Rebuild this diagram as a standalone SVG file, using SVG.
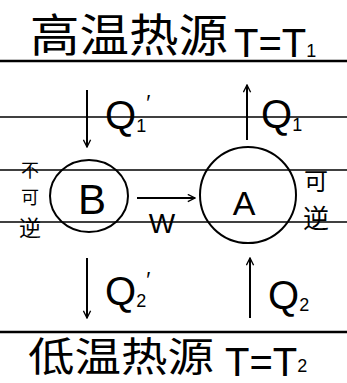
<svg xmlns="http://www.w3.org/2000/svg" width="347" height="383" viewBox="0 0 347 383">
<defs>
<marker id="ah" viewBox="0 0 10 10" refX="9" refY="5" markerWidth="9" markerHeight="9" orient="auto" markerUnits="userSpaceOnUse">
<path d="M1,1 L9,5 L1,9" fill="none" stroke="#000" stroke-width="1.5"/>
</marker>
</defs>
<style>
.ln{stroke:#000;stroke-width:1.3}
.thick{stroke:#000;stroke-width:2.5}
.cjk{font-family:"Noto Sans CJK SC","Noto Sans",sans-serif;fill:#000}
.lat{font-family:"Liberation Sans",sans-serif;fill:#000}
.arr{stroke:#000;stroke-width:2;fill:none;marker-end:url(#ah)}
.node{fill:none;stroke:#000;stroke-width:2}
</style>
<rect width="347" height="383" fill="#fff"/>
<g id="rules">
<line class="thick" x1="0" y1="61" x2="347" y2="61"/>
<line class="ln" x1="0" y1="117" x2="347" y2="117"/>
<line class="ln" x1="0" y1="170" x2="347" y2="170"/>
<line class="ln" x1="0" y1="222" x2="347" y2="222"/>
<line class="thick" x1="0" y1="332" x2="347" y2="332"/>
</g>
<g id="hot">
<text class="cjk" x="30" y="52" font-size="45" textLength="198" lengthAdjust="spacingAndGlyphs">高温热源</text>
<text class="lat" x="234" y="57" font-size="40">T=T<tspan font-size="18" dy="0">1</tspan></text>
</g>
<g id="cold">
<text class="cjk" x="28" y="371" font-size="40" textLength="186" lengthAdjust="spacingAndGlyphs">低温热源</text>
<text class="lat" x="225" y="376" font-size="40">T=T<tspan font-size="18" dy="-4">2</tspan></text>
</g>
<g id="B">
<ellipse class="node" cx="89" cy="196" rx="39" ry="36"/>
<text class="lat" x="92" y="214" font-size="42" text-anchor="middle">B</text>
<text class="cjk" x="30" y="177" font-size="18" text-anchor="middle">不</text>
<text class="cjk" x="30" y="204" font-size="18" text-anchor="middle">可</text>
<text class="cjk" x="30" y="236" font-size="22" text-anchor="middle">逆</text>
</g>
<g id="A">
<circle class="node" cx="248" cy="195" r="48"/>
<text class="lat" x="244" y="215" font-size="34" text-anchor="middle">A</text>
<text class="cjk" x="316" y="190" font-size="24" text-anchor="middle">可</text>
<text class="cjk" x="316" y="228" font-size="26" text-anchor="middle">逆</text>
</g>
<g id="connectors">
<line class="arr" x1="87" y1="90" x2="87" y2="147"/>
<text class="lat" x="105" y="129" font-size="40">Q<tspan font-size="18" dy="3">1</tspan><tspan font-size="22" dy="-22">′</tspan></text>
<line class="arr" x1="247" y1="140" x2="247" y2="85"/>
<text class="lat" x="261" y="128" font-size="40">Q<tspan font-size="18" dy="3">1</tspan></text>
<line class="arr" x1="137" y1="198" x2="195" y2="198"/>
<text class="lat" x="162" y="233" font-size="28" text-anchor="middle">W</text>
<line class="arr" x1="87" y1="258" x2="87" y2="318"/>
<text class="lat" x="105" y="305" font-size="40">Q<tspan font-size="18" dy="2">2</tspan><tspan font-size="22" dy="-20">′</tspan></text>
<line class="arr" x1="250" y1="318" x2="250" y2="258"/>
<text class="lat" x="268" y="309" font-size="40">Q<tspan font-size="18" dy="2">2</tspan></text>
</g>
</svg>
